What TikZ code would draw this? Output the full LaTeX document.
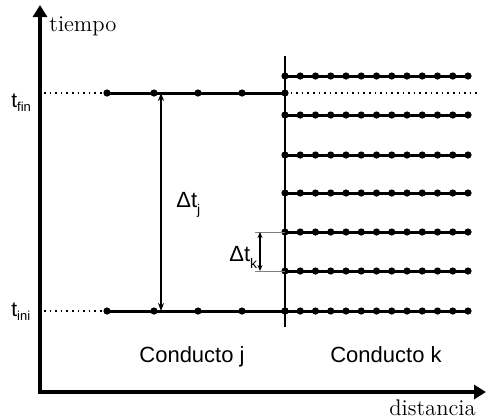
\documentclass[tikz,border=0pt]{standalone}
\usepackage{fontspec}
\newfontfamily\arialfont{Liberation Sans}
\usetikzlibrary{arrows.meta,positioning}

\begin{document}
\begin{tikzpicture}[x=0.5pt, y=-0.5pt,
  axis/.style={line width=2pt, {Triangle[length=6pt,width=7pt]}-{Triangle[length=6pt,width=7pt]}},
  seg/.style={line width=1.5pt},
  guide/.style={line width=0.8pt, dotted},
  span/.style={line width=0.8pt, {Stealth[length=4pt,width=3pt]}-{Stealth[length=4pt,width=3pt]}},
  ext/.style={line width=0.3pt, gray},
  lbl/.style={font=\fontsize{11}{13}\selectfont\arialfont, inner sep=0pt},
  axlbl/.style={font=\fontsize{11.3}{14}\selectfont, inner sep=0pt},
  tlbl/.style={font=\fontsize{10.5}{12}\selectfont\arialfont, inner sep=0pt}
]
\useasboundingbox (0,0) rectangle (486,419);

% Axes
\coordinate (top) at (40,5);
\coordinate (orig) at (40,392);
\coordinate (right) at (486,392);
\draw[axis] (top) -- (orig) -- (right);
\node[axlbl, anchor=base west] (tiempo) at (49,31) {tiempo};
\node[axlbl, anchor=base east] (dist) at (476,415) {distancia};

% Time levels
\node[tlbl, anchor=base west] (tfin) at (11,107) {t\raisebox{-0.4ex}{\fontsize{6.5}{7}\selectfont fin}};
\node[tlbl, anchor=base west] (tini) at (11,316) {t\raisebox{-0.4ex}{\fontsize{6.5}{7}\selectfont ini}};
\coordinate (jfin0) at (44,93);
\coordinate (jfin1) at (107,93);
\coordinate (jfin2) at (285,93);
\coordinate (kfin) at (478,93);
\coordinate (jini0) at (44,311);
\coordinate (jini1) at (107,311);
\coordinate (jini2) at (285,311);
\draw[guide] (jfin0) -- (jfin1);
\draw[guide] (jfin2) -- (kfin);
\draw[guide] (jini0) -- (jini1);

% Conducto j
\draw[seg] (jfin1) -- (jfin2);
\draw[seg] (jini1) -- (jini2);
\foreach \x in {107,154,198,242,285} {
  \fill (\x,93) circle (1.8pt);
  \fill (\x,311) circle (1.8pt);
}
\coordinate (dja) at (161,93);
\coordinate (djb) at (161,311);
\draw[span] (dja) -- (djb);
\node[lbl, anchor=west] (dtj) at (176,205) {Δt\raisebox{-0.6ex}{\fontsize{7}{8}\selectfont j}};

% Boundary between conductos
\coordinate (wtop) at (285,56);
\coordinate (wbot) at (285,327);
\draw[line width=1.1pt] (wtop) -- (wbot);

% Conducto k
\foreach \y in {76,115,155,193,232,271,311} {
  \draw[seg] (285,\y) -- (468,\y);
  \foreach \i in {0,...,12}
    \fill ({285+15.25*\i},\y) circle (1.8pt);
}
\coordinate (dka) at (260,232);
\coordinate (dkb) at (260,271);
\draw[ext] (255,232) -- (285,232);
\draw[ext] (255,271) -- (285,271);
\draw[line width=0.6pt, {Stealth[length=3pt,width=2.5pt]}-{Stealth[length=3pt,width=2.5pt]}] (dka) -- (dkb);
\node[lbl, anchor=west] (dtk) at (229,257) {Δt\raisebox{-0.6ex}{\fontsize{7}{8}\selectfont k}};

% Labels
\node[lbl, anchor=base] (condj) at (192,362) {Conducto j};
\node[lbl, anchor=base] (condk) at (386,362) {Conducto k};

\end{tikzpicture}
\end{document}
